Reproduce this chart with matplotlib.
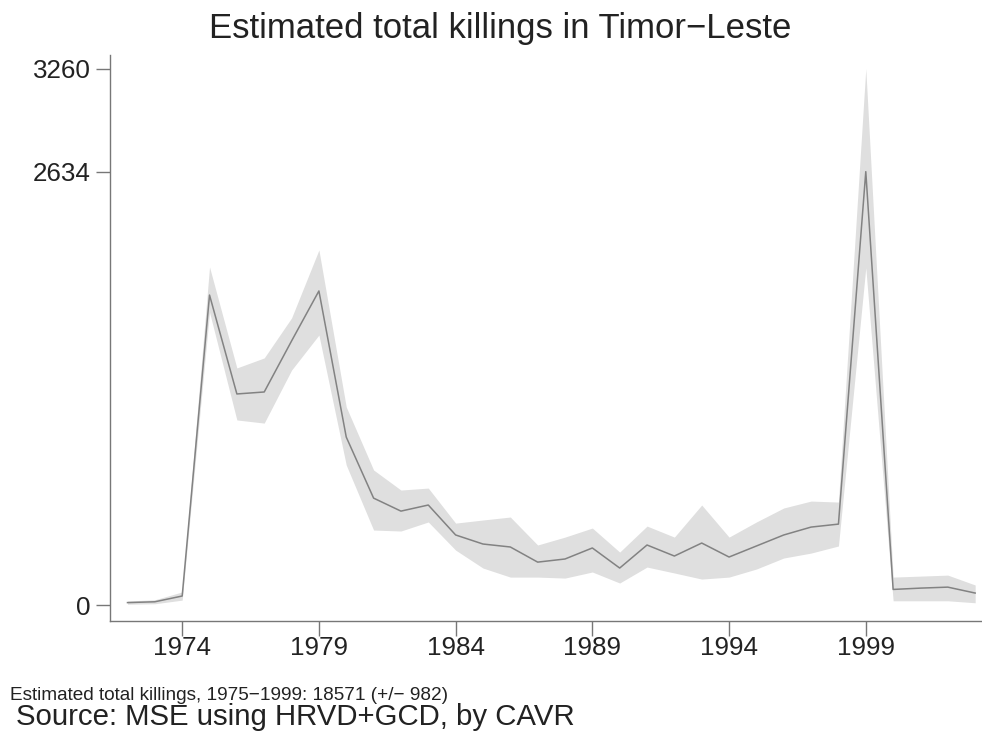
import matplotlib
matplotlib.use("Agg")
import matplotlib.pyplot as plt

years = list(range(1972, 2004))
estimate = [15, 20, 55, 1884, 1283, 1295, 1605, 1909, 1021, 650, 571, 608, 426, 371, 353, 261,
            280, 347, 225, 365, 298, 377, 292, 359, 426, 474, 492, 2634, 95, 103, 109, 73]
upper = [25, 32, 80, 2055, 1441, 1502, 1745, 2158, 1204, 821, 699, 711, 498, 517, 535, 365,
         413, 468, 322, 480, 413, 608, 413, 505, 590, 632, 626, 3260, 170, 176, 182, 122]
lower = [5, 8, 30, 1780, 1125, 1106, 1428, 1641, 851, 456, 450, 505, 334, 225, 170, 170,
         164, 201, 134, 231, 195, 158, 170, 219, 286, 316, 359, 2050, 26, 26, 26, 14]
xticks = [1974, 1979, 1984, 1989, 1994, 1999]
yticks = [0, 2634, 3260]

title = "Estimated total killings in Timor\u2212Leste"
note1 = "Estimated total killings, 1975\u22121999: 18571 (+/\u2212 982)"
note2 = "Source: MSE using HRVD+GCD, by CAVR"

plt.rcParams['font.family'] = ['Liberation Sans', 'DejaVu Sans']

fig = plt.figure(figsize=(9.82, 7.40), dpi=100)
ax = fig.add_axes([110/982, 1 - 620.7/740, 1 - 110/982, (620.7 - 55)/740])

ax.fill_between(years, lower, upper, color='#dfdfdf', linewidth=0)
ax.plot(years, estimate, color='#828282', linewidth=1.1)

ax.set_xlim(1971.36, 2003.25)
ax.set_ylim(-95, 3343)
ax.set_xticks(xticks)
ax.set_xticklabels([str(t) for t in xticks])
ax.set_yticks(yticks)
ax.set_yticklabels([str(t) for t in yticks])

for s in ['top', 'right']:
    ax.spines[s].set_visible(False)
for s in ['left', 'bottom']:
    ax.spines[s].set_color('#777777')
    ax.spines[s].set_linewidth(1.0)
ax.tick_params(axis='both', direction='out', length=11, width=1.0, color='#777777',
               labelsize=18.7, labelcolor='#222222')
ax.tick_params(axis='x', pad=0)
ax.tick_params(axis='y', length=10, pad=4)

fig.text(500/982, 1 - 38/740, title, ha='center', va='baseline', fontsize=25, color='#222222')
fig.text(10/982, 1 - 700/740, note1, ha='left', va='baseline', fontsize=13.7, color='#222222')
fig.text(16/982, 1 - 725/740, note2, ha='left', va='baseline', fontsize=21.2, color='#222222')

fig.savefig("out.png", dpi=100, facecolor='white')
